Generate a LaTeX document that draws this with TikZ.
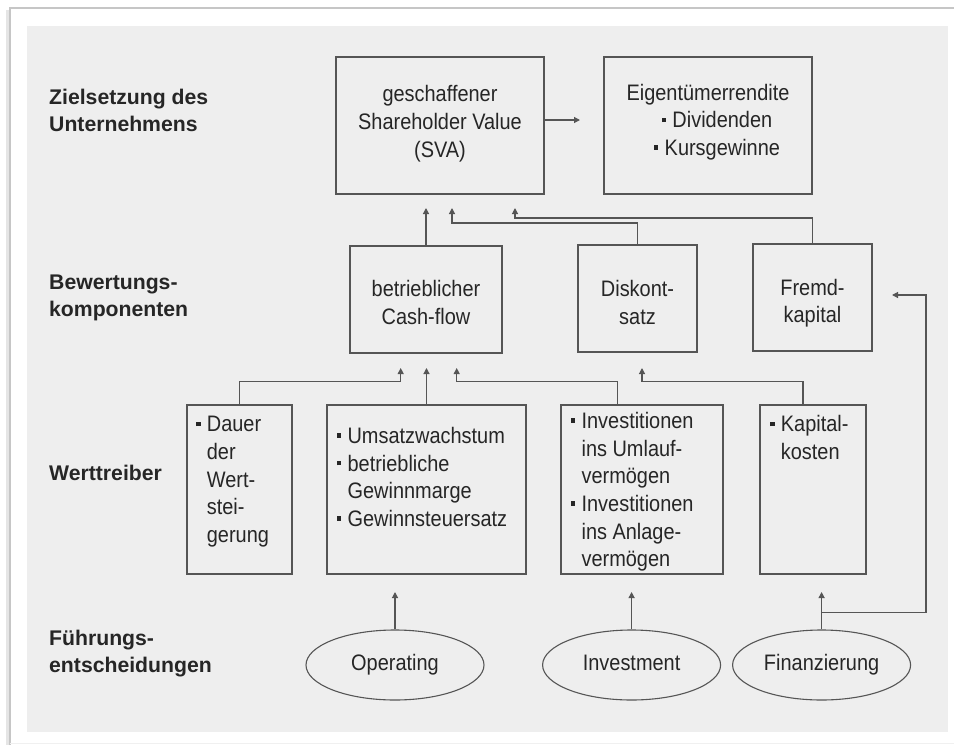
\documentclass[tikz,border=0pt]{standalone}
\usepackage{fontspec}
\setmainfont{Liberation Sans}
% narrower body face for the box and oval texts
\newfontfamily\bodyfont{Liberation Sans}[FakeStretch=0.89]
\usetikzlibrary{arrows.meta,shapes.geometric}
\definecolor{panel}{HTML}{EEEEEE}
\definecolor{ink}{HTML}{262626}
\definecolor{rule}{HTML}{555555}
% square list bullet and matching hanging indent
\newcommand\bul{\rule[5.8pt]{4.3pt}{4.3pt}\hspace{6.4pt}}
\newcommand\ind{\hspace*{10.7pt}}

\begin{document}
\begin{tikzpicture}[x=1pt,y=-1pt,
  box/.style={draw=rule, line width=1.2pt, rectangle, inner sep=0pt},
  oval/.style={draw=rule, line width=1.1pt, ellipse, inner sep=0pt,
    minimum width=178pt, minimum height=70pt,
    text height=15pt, text depth=4.5pt,
    font=\bodyfont\fontsize{22.4}{24}\selectfont, text=ink},
  txt/.style={inner sep=0pt, text=ink, font=\bodyfont\fontsize{22.4}{27.7}\selectfont},
  lbl/.style={inner sep=0pt, anchor=north west, align=left, text=ink,
    font=\fontsize{21.2}{27}\selectfont\bfseries},
  link/.style={draw=rule, line width=1.2pt},
  arr/.style={link, -{Triangle[length=6pt,width=6pt]}},
]
\useasboundingbox (0,0) rectangle (954,745);

% page frame and grey panel
\fill[white] (0,0) rectangle (954,745);
\draw[gray!20, line width=3pt] (7,10) -- (7,745);
\draw[gray!45, line width=1.5pt] (10,745) -- (10,8) -- (954,8);
\draw[gray!12, line width=1pt] (10,743.5) -- (954,743.5);
\fill[panel] (27,26) rectangle (948,732);

% level labels
\node[lbl] (l1) at (49,85.1)  {\strut Zielsetzung des\\Unternehmens};
\node[lbl] (l2) at (49,270.4) {\strut Bewertungs-\\komponenten};
\node[lbl] (l3) at (49,461.8) {\strut Werttreiber};
\node[lbl] (l4) at (49,626.1) {\strut Führungs-\\entscheidungen};

% boxes
\node[box, minimum width=208pt, minimum height=137pt] (sva) at (440,125.5) {};
\node[box, minimum width=208pt, minimum height=137pt] (eig) at (708,125.5) {};
\node[box, minimum width=152pt, minimum height=107pt] (cf)  at (426,299.5) {};
\node[box, minimum width=119pt, minimum height=107pt] (dk)  at (637.5,298.5) {};
\node[box, minimum width=119pt, minimum height=107pt] (fk)  at (812.5,297.5) {};
\node[box, minimum width=105pt, minimum height=169pt] (da)  at (239.5,489.5) {};
\node[box, minimum width=199pt, minimum height=169pt] (um)  at (426.5,489.5) {};
\node[box, minimum width=162pt, minimum height=169pt] (iv)  at (642,489.5) {};
\node[box, minimum width=106pt, minimum height=169pt] (kk)  at (813,489.5) {};

% box texts
\node[txt, anchor=north, align=center] (svat) at (440,82.3)
  {\strut geschaffener\\Shareholder Value\\(SVA)};
\node[txt, anchor=north, align=center] (eigt) at (708,80.6)
  {\strut Eigentümerrendite\\\hspace*{18pt}\bul Dividenden\\\hspace*{18pt}\bul Kursgewinne};
\node[txt, anchor=north, align=center] (cft) at (426,277)
  {\strut betrieblicher\\Cash-flow};
\node[txt, anchor=north, align=center] (dkt) at (637.5,277)
  {\strut Diskont-\\satz};
\node[txt, anchor=north, align=center] (fkt) at (812.5,275.5)
  {\strut Fremd-\\kapital};
\node[txt, anchor=north west, align=left] (dat) at (196,412.3)
  {\strut\bul Dauer\\\ind der\\\ind Wert-\\\ind stei-\\\ind gerung};
\node[txt, anchor=north west, align=left] (umt) at (336.7,423.9)
  {\strut\bul Umsatzwachstum\\\bul betriebliche\\\ind Gewinnmarge\\\bul Gewinnsteuersatz};
\node[txt, anchor=north west, align=left] (ivt) at (570.7,408.9)
  {\strut\bul Investitionen\\\ind ins Umlauf-\\\ind vermögen\\\bul Investitionen\\\ind ins Anlage-\\\ind vermögen};
\node[txt, anchor=north west, align=left] (kkt) at (770,412.3)
  {\strut\bul Kapital-\\\ind kosten};

% decisions
\node[oval] (op)  at (395,665)   {Operating};
\node[oval] (inv) at (631.6,665) {Investment};
\node[oval] (fin) at (821.6,665) {Finanzierung};

% connector end points and corners
\coordinate (te) at (580,120);
\coordinate (t1) at (426,208);
\coordinate (k2) at (452,223);   \coordinate (t2) at (452,208);
\coordinate (k3) at (515,218);   \coordinate (t3) at (515,208);
\coordinate (k4) at (400.7,381.7); \coordinate (t4) at (400.7,368);
\coordinate (t5) at (426.5,368);
\coordinate (k6) at (456.7,381.7); \coordinate (t6) at (456.7,368);
\coordinate (k7) at (642,381.7);   \coordinate (t7) at (642,368);
\coordinate (t8) at (395,592);
\coordinate (t9) at (631.6,592);
\coordinate (t10) at (821.6,592);
\coordinate (fb) at (821.6,612.7);
\coordinate (k11) at (926,295);  \coordinate (t11) at (892,295);

% connectors
\draw[arr] (sva.east |- te) -- (te);
\draw[arr] (cf.north) -- (t1);
\draw[arr] (dk.north) |- (k2) -- (t2);
\draw[arr] (fk.north) |- (k3) -- (t3);
\draw[arr] (da.north) |- (k4) -- (t4);
\draw[arr] (um.north) -- (t5);
\draw[arr] ([xshift=-24.3pt]iv.north) |- (k6) -- (t6);
\draw[arr] ([xshift=-10pt]kk.north) |- (k7) -- (t7);
\draw[arr] (op.north) -- (t8);
\draw[arr] (inv.north) -- (t9);
\draw[arr] (fin.north) -- (t10);
\draw[arr] (fb) -| (k11) -- (t11);
\end{tikzpicture}
\end{document}
